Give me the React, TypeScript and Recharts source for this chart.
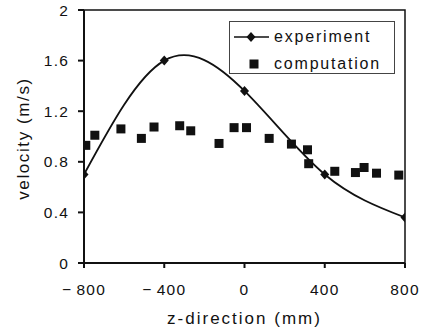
import React from 'react';
import { ComposedChart, Line, Scatter, XAxis, YAxis, Legend, ReferenceArea } from 'recharts';

// experiment (measured) points
const expZ = [-800, -400, 0, 400, 800];
const expV = [0.7, 1.6, 1.36, 0.7, 0.36];

// computation points
const compZ = [-791, -746, -616, -514, -451, -323, -268, -127, -52, 10, 123, 234, 314, 320, 450, 553, 596, 658, 769];
const compV = [0.93, 1.01, 1.06, 0.985, 1.075, 1.085, 1.045, 0.945, 1.07, 1.07, 0.985, 0.94, 0.895, 0.785, 0.725, 0.715, 0.755, 0.71, 0.695];

const xTicks = [-800, -400, 0, 400, 800];
const yTicks = [0, 0.4, 0.8, 1.2, 1.6, 2];

const expData = expZ.map((z, i) => ({ z, v: expV[i] }));
const compData = compZ.map((z, i) => ({ z, v: compV[i] }));

const FONT = '"Liberation Sans", Arial, Helvetica, sans-serif';
const INK = '#111';

const Diamond = (p: any) => {
  const { cx, cy } = p;
  if (cx == null || cy == null) return null;
  return <path d={`M${cx},${cy - 5} L${cx + 4.5},${cy} L${cx},${cy + 5} L${cx - 4.5},${cy} Z`} fill={INK} />;
};

const Square = (p: any) => {
  const { cx, cy } = p;
  if (cx == null || cy == null) return null;
  return <rect x={cx - 4.5} y={cy - 4.5} width={9} height={9} fill={INK} />;
};

const xFmt = (v: number) => (v < 0 ? '\u2212\u2009' + Math.abs(v) : String(v));
const yFmt = (v: number) => String(v);

const tickStyle = { fill: INK, fontSize: 15.5, fontFamily: FONT, letterSpacing: 1.2 };

const LegendBox = () => (
  <div
    style={{
      width: 166,
      height: 53,
      boxSizing: 'border-box',
      border: '1px solid #444',
      background: '#fff',
      fontFamily: FONT,
      fontSize: 16,
      letterSpacing: 1.8,
      color: INK,
      position: 'relative',
    }}
  >
    <svg width={44} height={53} style={{ position: 'absolute', left: 0, top: 0 }}>
      <line x1={4} y1={15} x2={39} y2={15} stroke={INK} strokeWidth={1.6} />
      <path d="M21,10 L25.5,15 L21,20 L16.5,15 Z" fill={INK} />
      <rect x={19.5} y={37.5} width={9} height={9} fill={INK} />
    </svg>
    <div style={{ position: 'absolute', left: 44, top: 5, lineHeight: '20px' }}>experiment</div>
    <div style={{ position: 'absolute', left: 44, top: 32, lineHeight: '20px' }}>computation</div>
  </div>
);

const YTitle = (props: any) => {
  const vb = props.viewBox || {};
  const x = (vb.x ?? 0) + 23;
  const y = (vb.y ?? 0) + (vb.height ?? 0) / 2 + 2;
  return (
    <text
      x={x}
      y={y}
      transform={`rotate(-90 ${x} ${y})`}
      textAnchor="middle"
      dominantBaseline="central"
      fontFamily={FONT}
      fontSize={17}
      letterSpacing={1.6}
      fill={INK}
    >
      velocity (m/s)
    </text>
  );
};

const XTitle = (props: any) => {
  const vb = props.viewBox || {};
  const x = (vb.x ?? 0) + (vb.width ?? 0) / 2;
  const y = (vb.y ?? 0) + 61;
  return (
    <text x={x} y={y} textAnchor="middle" fontFamily={FONT} fontSize={17} letterSpacing={2} fill={INK}>
      z-direction (mm)
    </text>
  );
};

export default function App() {
  return (
    <div style={{ position: 'absolute', left: 0, top: 0, background: '#fff' }}>
      <ComposedChart width={425} height={332} margin={{ top: 10, right: 20, bottom: 0, left: 0 }}>
        <XAxis
          dataKey="z"
          type="number"
          domain={[-800, 800]}
          ticks={xTicks}
          tickFormatter={xFmt}
          height={69}
          tickSize={5}
          tickMargin={16}
          stroke={INK}
          strokeWidth={2}
          tick={tickStyle}
          allowDataOverflow
          label={<XTitle />}
        />
        <YAxis
          dataKey="v"
          type="number"
          domain={[0, 2]}
          ticks={yTicks}
          tickFormatter={yFmt}
          width={84}
          tickSize={6}
          tickMargin={9}
          stroke={INK}
          strokeWidth={2}
          tick={tickStyle}
          allowDataOverflow
          label={<YTitle />}
        />
        <ReferenceArea x1={-800} x2={800} y1={0} y2={2} fill="none" stroke={INK} strokeWidth={1.5} />
        <Line
          data={expData}
          dataKey="v"
          type="natural"
          stroke={INK}
          strokeWidth={1.8}
          dot={<Diamond />}
          activeDot={false}
          isAnimationActive={false}
          name="experiment"
        />
        <Scatter
          data={compData}
          dataKey="v"
          shape={<Square />}
          isAnimationActive={false}
          name="computation"
        />
        <Legend
          layout="horizontal"
          verticalAlign="middle"
          align="center"
          content={<LegendBox />}
          wrapperStyle={{ left: 229, top: 21, width: 166, height: 53 }}
        />
      </ComposedChart>
    </div>
  );
}
